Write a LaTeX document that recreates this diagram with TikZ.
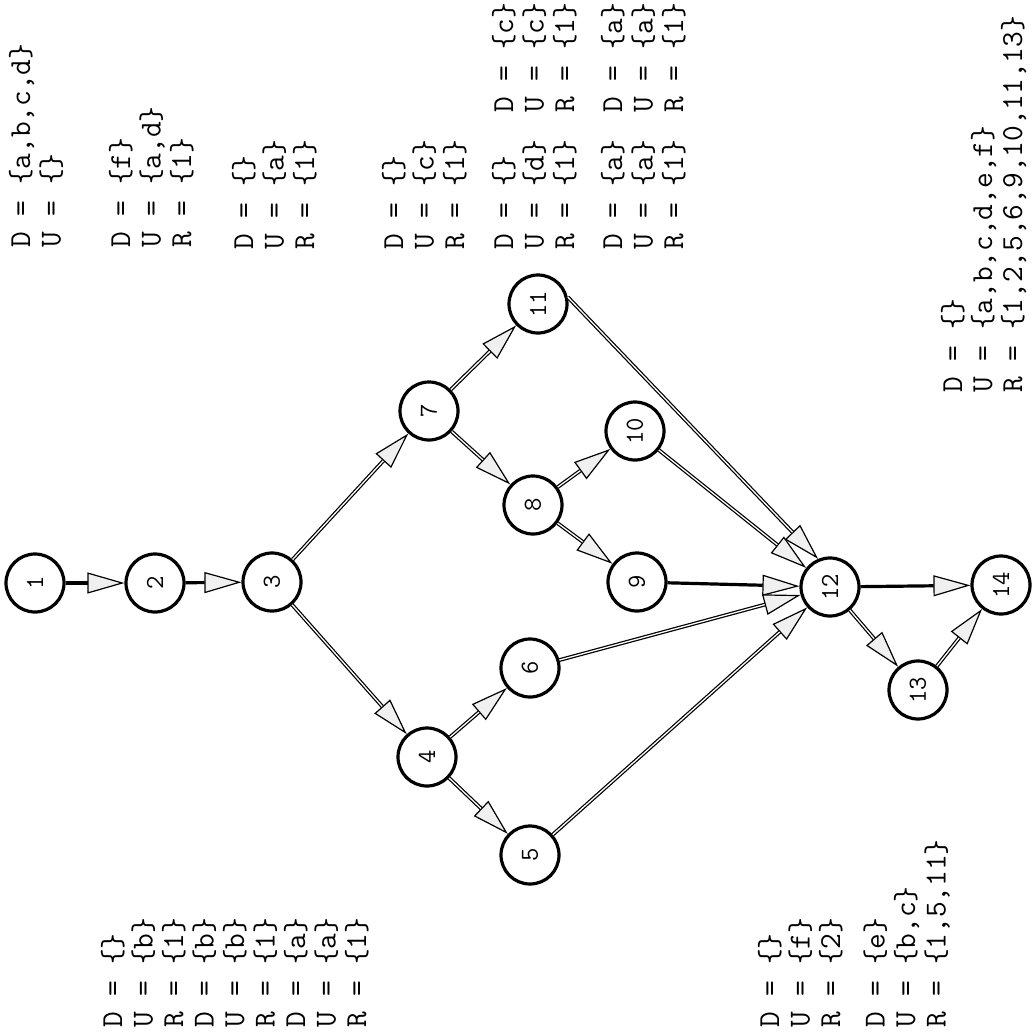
\documentclass[tikz,border=0pt]{standalone}
\usepackage{fontspec}
\usepackage{graphicx}
\usetikzlibrary{arrows.meta}
\newcommand{\vnum}[1]{\rotatebox{90}{#1}}
\tikzset{
  vtx/.style={circle, draw, line width=3.2pt, minimum size=58pt, inner sep=0pt,
    font=\ttfamily\fontsize{26}{26}\selectfont},
  tipstyle/.style={-{Triangle[length=37pt,width=21pt,fill=gray!12,line width=1.2pt]}},
  solidedge/.style={line width=3.2pt, tipstyle},
  dbledge/.style={line width=3.8pt, tipstyle,
    postaction={draw=white, line width=1.3pt, -, shorten >=37pt}},
  lbl/.style={rotate=90, anchor=base west, inner sep=0pt,
    font=\ttfamily\fontsize{30.5}{30.5}\selectfont}
}
\begin{document}
\begin{tikzpicture}[x=1pt,y=-1pt]
\useasboundingbox[fill=white] (0,0) rectangle (1032,1033);
% vertices
\node[vtx] (n1) at (35,583) {\vnum{1}};
\node[vtx] (n2) at (155,583) {\vnum{2}};
\node[vtx] (n3) at (272,582) {\vnum{3}};
\node[vtx] (n4) at (427,757) {\vnum{4}};
\node[vtx] (n5) at (530,855) {\vnum{5}};
\node[vtx] (n6) at (530,668) {\vnum{6}};
\node[vtx] (n7) at (429,411) {\vnum{7}};
\node[vtx] (n8) at (533,505) {\vnum{8}};
\node[vtx] (n9) at (637,582) {\vnum{9}};
\node[vtx] (n10) at (635,431) {\vnum{10}};
\node[vtx] (n11) at (538,304) {\vnum{11}};
\node[vtx] (n12) at (830,587) {\vnum{12}};
\node[vtx] (n13) at (918,690) {\vnum{13}};
\node[vtx] (n14) at (1001,585) {\vnum{14}};
% edges
\draw[solidedge] (n1) -- (n2);
\draw[solidedge] (n2) -- (n3);
\draw[dbledge] (n3) -- (n7);
\draw[dbledge] (n3) -- (n4);
\draw[dbledge] (n7) -- (n11);
\draw[dbledge] (n7) -- (n8);
\draw[dbledge] (n8) -- (n10);
\draw[dbledge] (n8) -- (n9);
\draw[dbledge] (n4) -- (n6);
\draw[dbledge] (n4) -- (n5);
\draw[dbledge] (n11.13) -- (n12.113);
\draw[dbledge] (n10) -- (n12);
\draw[solidedge] (n9) -- (n12);
\draw[dbledge] (n6) -- (n12);
\draw[dbledge] (n5) -- (n12);
\draw[solidedge] (n12) -- (n14);
\draw[dbledge] (n12) -- (n13);
\draw[dbledge] (n13) -- (n14);
% labels (top)
\node[lbl] (la) at (30,248) {\begin{tabular}[t]{@{}l@{}}D = \{a,b,c,d\}\\U = \{\}\end{tabular}};
\node[lbl] (lb) at (130,248) {\begin{tabular}[t]{@{}l@{}}D = \{f\}\\U = \{a,d\}\\R = \{1\}\end{tabular}};
\node[lbl] (lc) at (253,250) {\begin{tabular}[t]{@{}l@{}}D = \{\}\\U = \{a\}\\R = \{1\}\end{tabular}};
\node[lbl] (ld) at (403,250) {\begin{tabular}[t]{@{}l@{}}D = \{\}\\U = \{c\}\\R = \{1\}\end{tabular}};
\node[lbl] (le) at (513,250) {\begin{tabular}[t]{@{}l@{}l@{}}\makebox[137pt][l]{D = \{\}}&D = \{c\}\\\makebox[137pt][l]{U = \{d\}}&U = \{c\}\\\makebox[137pt][l]{R = \{1\}}&R = \{1\}\end{tabular}};
\node[lbl] (lf) at (622,250) {\begin{tabular}[t]{@{}l@{}l@{}}\makebox[137pt][l]{D = \{a\}}&D = \{a\}\\\makebox[137pt][l]{U = \{a\}}&U = \{a\}\\\makebox[137pt][l]{R = \{1\}}&R = \{1\}\end{tabular}};
\node[lbl, font=\ttfamily\fontsize{30.5}{29.5}\selectfont] (lg) at (962,393) {\begin{tabular}[t]{@{}l@{}}D = \{\}\\U = \{a,b,c,d,e,f\}\\R = \{1,2,5,6,9,10,11,13\}\end{tabular}};
% labels (bottom)
\node[lbl] (lh) at (122,1028) {\begin{tabular}[t]{@{}l@{}}D = \{\}\\U = \{b\}\\R = \{1\}\\D = \{b\}\\U = \{b\}\\R = \{1\}\\D = \{a\}\\U = \{a\}\\R = \{1\}\end{tabular}};
\node[lbl] (li) at (779,1028) {\begin{tabular}[t]{@{}l@{}}D = \{\}\\U = \{f\}\\R = \{2\}\\[14pt]D = \{e\}\\U = \{b,c\}\\R = \{1,5,11\}\end{tabular}};
\end{tikzpicture}
\end{document}
